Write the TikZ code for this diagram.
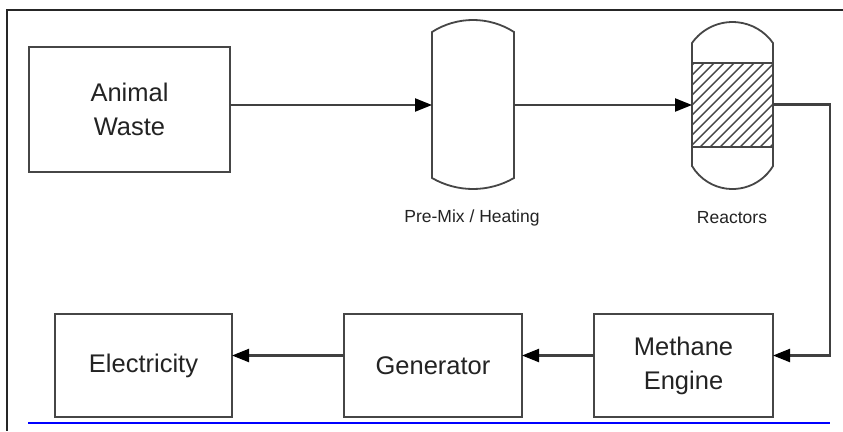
\documentclass[tikz,border=0pt]{standalone}
\usepackage{fontspec}
\setmainfont{Liberation Sans}
\usetikzlibrary{arrows.meta}
\definecolor{linegray}{RGB}{70,70,70}
\definecolor{textgray}{RGB}{35,35,35}
\tikzset{
  box/.style={draw=linegray, line width=2.2pt, inner sep=0pt, outer sep=0pt, align=center,
    text=textgray, font=\fontsize{25.5}{34}\selectfont},
  vessel/.style={inner sep=0pt, outer sep=0pt},
  vline/.style={draw=linegray, line width=1.8pt},
  arr/.style={draw=black!75, line width=2.2pt, -{Triangle[length=17pt,width=13pt,fill=black,color=black]}},
  lbl/.style={text=textgray, font=\fontsize{17.5}{20}\selectfont},
}
\begin{document}
\begin{tikzpicture}[x=1pt,y=1pt]
\useasboundingbox (0,0) rectangle (843,-431);
\fill[white] (0,0) rectangle (843,-431);
% frame
\draw[black!85, line width=2pt] (843,-10) -- (7,-10) -- (7,-431);
% boxes
\node[box, minimum width=201pt, minimum height=125pt] (aw) at (129.5,-109.5) {Animal\\Waste};
\node[box, minimum width=177pt, minimum height=103pt] (el) at (143.5,-365.5) {Electricity};
\node[box, minimum width=178pt, minimum height=103pt] (gen) at (433,-365.5) {Generator};
\node[box, minimum width=179pt, minimum height=103pt] (me) at (683.5,-365.5) {Methane\\Engine};
% pre-mix vessel
\node[vessel, minimum width=82pt, minimum height=146pt] (pm) at (473,-105) {};
\draw[vline] (pm.north west) arc[start angle=122.65, end angle=57.35, radius=76pt]
  -- (pm.south east) arc[start angle=-59.96, end angle=-120.04, radius=81.9pt] -- cycle;
\node[lbl] (pmlbl) at (472,-218) {Pre-Mix / Heating};
% reactor vessel
\node[vessel, minimum width=81pt, minimum height=123pt] (re) at (732.5,-104.5) {};
\begin{scope}
  \clip (692,-63) rectangle (773,-147);
  \foreach \i in {600,610,...,780} {
    \draw[linegray, line width=1.4pt] (\i,-147) -- (\i+84,-63);
  }
\end{scope}
\draw[vline] (692,-63) -- (773,-63) (692,-147) -- (773,-147);
\draw[vline] (re.north west) arc[start angle=144.8, end angle=35.2, radius=49.55pt]
  -- (re.south east) arc[start angle=-30.8, end angle=-149.2, radius=47.16pt] -- cycle;
\node[lbl] (relbl) at (732,-218) {Reactors};
% connectors
\draw[arr] (aw.east |- pm.west) -- (pm.west);
\draw[arr] (pm.east) -- (pm.east -| re.west);
\coordinate (mein) at ([yshift=10pt]me.east);
\coordinate (meout) at ([yshift=10pt]me.west);
\coordinate (genin) at ([yshift=10pt]gen.east);
\coordinate (genout) at ([yshift=10pt]gen.west);
\coordinate (elin) at ([yshift=10pt]el.east);
\coordinate (corner) at ([xshift=57pt]re.east);
\draw[arr] (re.east) -- (corner) |- (mein);
\draw[arr] (meout) -- (genin);
\draw[arr] (genout) -- (elin);
% blue line
\draw[blue, line width=2.5pt] (28,-423) -- (830,-423);
\end{tikzpicture}
\end{document}
